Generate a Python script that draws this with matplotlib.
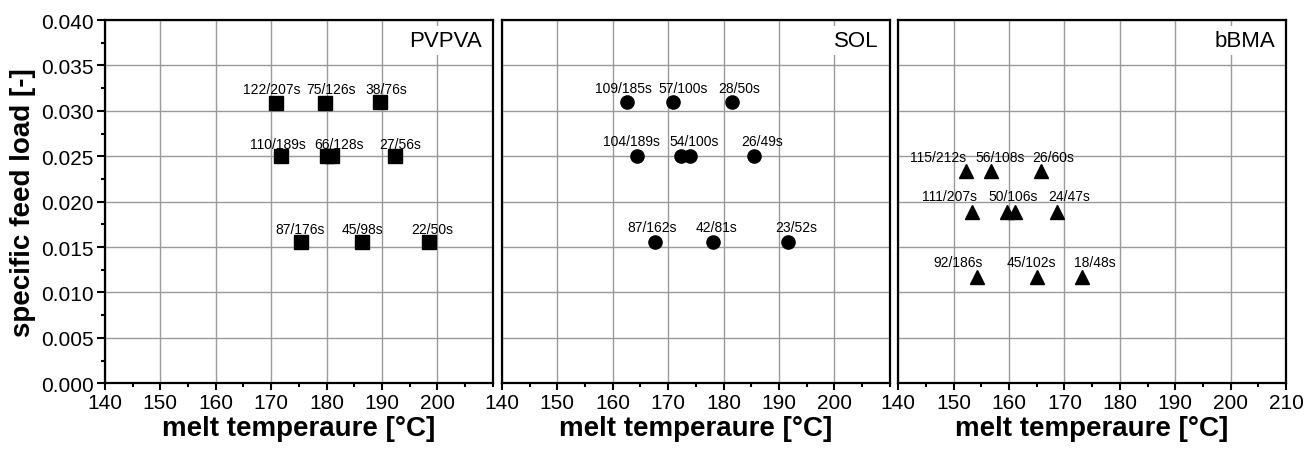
#!/usr/bin/env python3

import matplotlib
matplotlib.use('Agg')
import matplotlib.pyplot as plt
from matplotlib.ticker import MultipleLocator, FormatStrFormatter

plt.rcParams['font.family'] = ['Liberation Sans', 'DejaVu Sans']

# PVPVA (squares)
pv_temp = [170.9, 179.7, 189.7, 171.7, 180.0, 181.0, 192.4, 175.4, 186.3, 198.5]
pv_load = [0.0309, 0.0309, 0.0310, 0.0250, 0.0250, 0.0250, 0.0250, 0.0155, 0.0155, 0.0155]
pv_labels = ['122/207s', '75/126s', '38/76s', '110/189s', '66/128s', '27/56s',
             '87/176s', '45/98s', '22/50s']
pv_label_idx = [0, 1, 2, 3, 4, 6, 7, 8, 9]

# SOL (circles)
sol_temp = [162.6, 170.9, 181.6, 164.3, 172.3, 173.9, 185.4, 167.7, 178.0, 191.7]
sol_load = [0.0310, 0.0310, 0.0310, 0.0250, 0.0250, 0.0250, 0.0250, 0.0155, 0.0155, 0.0155]
sol_labels = ['109/185s', '57/100s', '28/50s', '104/189s', '54/100s', '26/49s',
              '87/162s', '42/81s', '23/52s']
sol_label_idx = [0, 1, 2, 3, 4, 6, 7, 8, 9]

# bBMA (triangles)
bb_temp = [152.3, 156.7, 165.7, 153.4, 159.6, 161.1, 168.7, 154.3, 165.0, 173.2]
bb_load = [0.0234, 0.0234, 0.0234, 0.0189, 0.0189, 0.0189, 0.0189, 0.0117, 0.0117, 0.0117]
bb_labels = ['115/212s', '56/108s', '26/60s', '111/207s', '50/106s', '24/47s',
             '92/186s', '45/102s', '18/48s']
bb_label_idx = [0, 1, 2, 3, 4, 6, 7, 8, 9]

# label offsets in pixels (x shift of label centre, baseline height above marker)
pv_dx = [-4, 6, 6, -3, 12, 5, -1, 1, 3]
pv_dy = [10, 10, 9, 8, 8, 8, 9, 9, 9]
sol_dx = [-4, 10, 7, -5, 13, 9, -3, 4, 8]
sol_dy = [10, 10, 10, 11, 11, 11, 11, 11, 11]
bb_dx = [-28, 9, 13, -23, 6, 12, -19, -5, 13]
bb_dy = [9.5, 9.5, 9.5, 12, 12, 12, 11, 11, 11]

PX = 72 / 100  # pixel -> points

fig = plt.figure(figsize=(13.15, 4.52), dpi=100)
bottom, height, width = 0.150, 0.8035, 0.2950
lefts = [0.0798, 0.3817, 0.6830]

panels = [
    ('PVPVA', pv_temp, pv_load, pv_labels, pv_label_idx, pv_dx, pv_dy, 's'),
    ('SOL', sol_temp, sol_load, sol_labels, sol_label_idx, sol_dx, sol_dy, 'o'),
    ('bBMA', bb_temp, bb_load, bb_labels, bb_label_idx, bb_dx, bb_dy, '^'),
]

for i, (name, temp, load, labels, idx, dxs, dys, marker) in enumerate(panels):
    ax = fig.add_axes([lefts[i], bottom, width, height])
    ax.set_xlim(140, 210)
    ax.set_ylim(0, 0.040)
    last = 210 if i == 2 else 200
    ax.set_xticks(list(range(140, last + 1, 10)))
    ax.xaxis.set_minor_locator(MultipleLocator(5))
    ax.yaxis.set_major_locator(MultipleLocator(0.005))
    ax.yaxis.set_minor_locator(MultipleLocator(0.0025))
    ax.yaxis.set_major_formatter(FormatStrFormatter('%.3f'))
    ax.grid(True, which='major', color='#9a9a9a', linewidth=1.0)
    ax.set_axisbelow(True)
    for sp in ax.spines.values():
        sp.set_linewidth(1.6)
    ax.tick_params(axis='both', which='major', direction='out', length=5,
                   width=1.5, labelsize=15, pad=2)
    ax.tick_params(axis='both', which='minor', direction='out', length=3,
                   width=1.5)
    if i > 0:
        ax.tick_params(axis='y', which='both', left=False, labelleft=False)
    else:
        ax.tick_params(axis='y', which='major', length=6)
        ax.set_ylabel('specific feed load [-]', fontsize=20, fontweight='bold',
                      labelpad=4)
    ax.set_xlabel('melt temperaure [°C]', fontsize=20, fontweight='bold',
                  labelpad=2)

    ax.plot(temp, load, linestyle='none', marker=marker, color='black',
            markersize=9.5, zorder=3)
    for lab, j, dx, dy in zip(labels, idx, dxs, dys):
        ax.annotate(lab, (temp[j], load[j]), xytext=(dx * PX, dy * PX),
                    textcoords='offset points', ha='center', va='baseline',
                    fontsize=10, zorder=4)

    ax.text(0.971, 0.929, name, transform=ax.transAxes, ha='right',
            va='baseline', fontsize=16, zorder=5,
            bbox=dict(facecolor='white', edgecolor='none', pad=3))

fig.savefig('out.png', dpi=100)
